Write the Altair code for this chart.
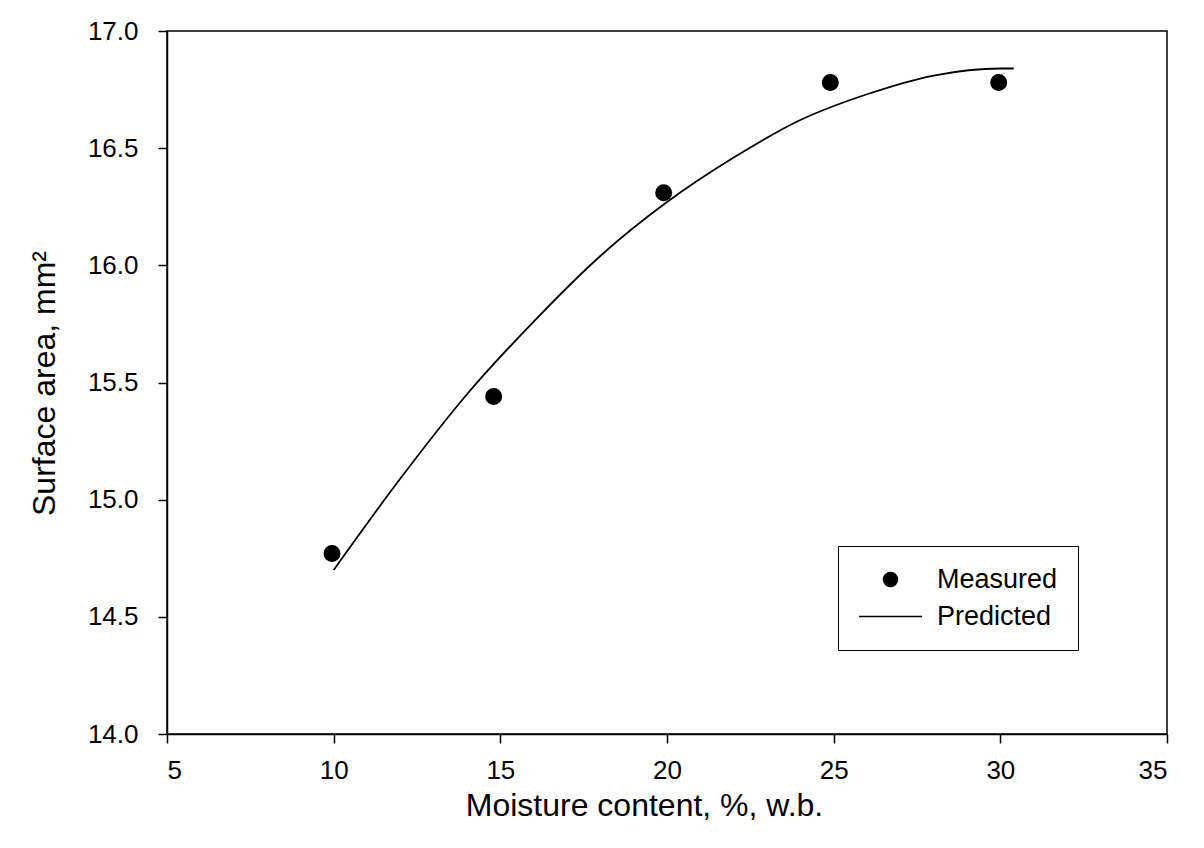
import altair as alt
import pandas as pd

# Measured points
meas_x = [9.95, 14.8, 19.9, 24.9, 29.95]
meas_y = [14.77, 15.44, 16.31, 16.78, 16.78]

# Predicted curve
pred_x = [10, 12, 14, 16, 18, 20, 22, 24, 26, 28, 30, 30.4]
pred_y = [14.70, 15.09, 15.45, 15.76, 16.04, 16.27, 16.46, 16.62, 16.73, 16.81, 16.84, 16.84]

x_ticks = [5, 10, 15, 20, 25, 30, 35]
y_ticks = [14.0, 14.5, 15.0, 15.5, 16.0, 16.5, 17.0]
series_names = ["Measured", "Predicted"]

FONT = "Liberation Sans"

meas = pd.DataFrame({"x": meas_x, "y": meas_y, "series": ["Measured"] * len(meas_x)})
pred = pd.DataFrame({"x": pred_x, "y": pred_y})

x_enc = alt.X(
    "x:Q",
    scale=alt.Scale(domain=[5, 35], nice=False),
    axis=alt.Axis(
        values=x_ticks, title="Moisture content, %, w.b.", grid=False, labelPadding=14,
        titleX=477, titleY=81, titleBaseline="alphabetic", titleAlign="center",
    ),
)
y_enc = alt.Y(
    "y:Q",
    scale=alt.Scale(domain=[14, 17], nice=False, zero=False),
    axis=alt.Axis(
        values=y_ticks, format=".1f", title="Surface area, mm²", grid=False, labelPadding=20,
        titleX=-113, titleY=352, titleAngle=-90, titleBaseline="alphabetic", titleAlign="center",
    ),
)

legend = alt.Legend(
    title=None, orient="none", legendX=671, legendY=515,
    strokeColor="black", padding=20, rowPadding=9,
    labelFont=FONT, labelFontSize=27, labelColor="black", labelOffset=33,
    symbolOffset=19, symbolSize=240,
    symbolFillColor="black", symbolStrokeColor="black", symbolStrokeWidth=1.5,
    symbolOpacity=1, fillColor="white",
)

points = alt.Chart(meas).mark_point(
    filled=True, fill="black", stroke="black", strokeWidth=1.5, size=240, opacity=1
).encode(
    x=x_enc,
    y=y_enc,
    shape=alt.Shape(
        "series:N",
        scale=alt.Scale(
            domain=series_names,
            range=["circle", "M-4.06,-0.1L4.06,-0.1L4.06,0.1L-4.06,0.1Z"],
        ),
        legend=legend,
    ),
)

line = alt.Chart(pred).mark_line(color="black", strokeWidth=1.8, interpolate="monotone").encode(
    x=alt.X("x:Q"),
    y=alt.Y("y:Q"),
)

chart = (
    alt.layer(line, points)
    .properties(
        width=1000, height=703,
        autosize=alt.AutoSizeParams(type="none"),
        padding={"left": 167, "top": 31, "right": 37, "bottom": 114},
        background="white",
    )
    .configure_view(stroke="black", strokeWidth=1.5)
    .configure_axis(
        domainColor="black", domainWidth=1.5, tickColor="black", tickWidth=1.5, tickSize=9,
        labelFont=FONT, labelFontSize=26, labelColor="black",
        titleFont=FONT, titleFontSize=32, titleFontWeight="normal", titleColor="black",
    )
)

chart.save("out.html", embed_options={"renderer": "svg", "actions": False})
